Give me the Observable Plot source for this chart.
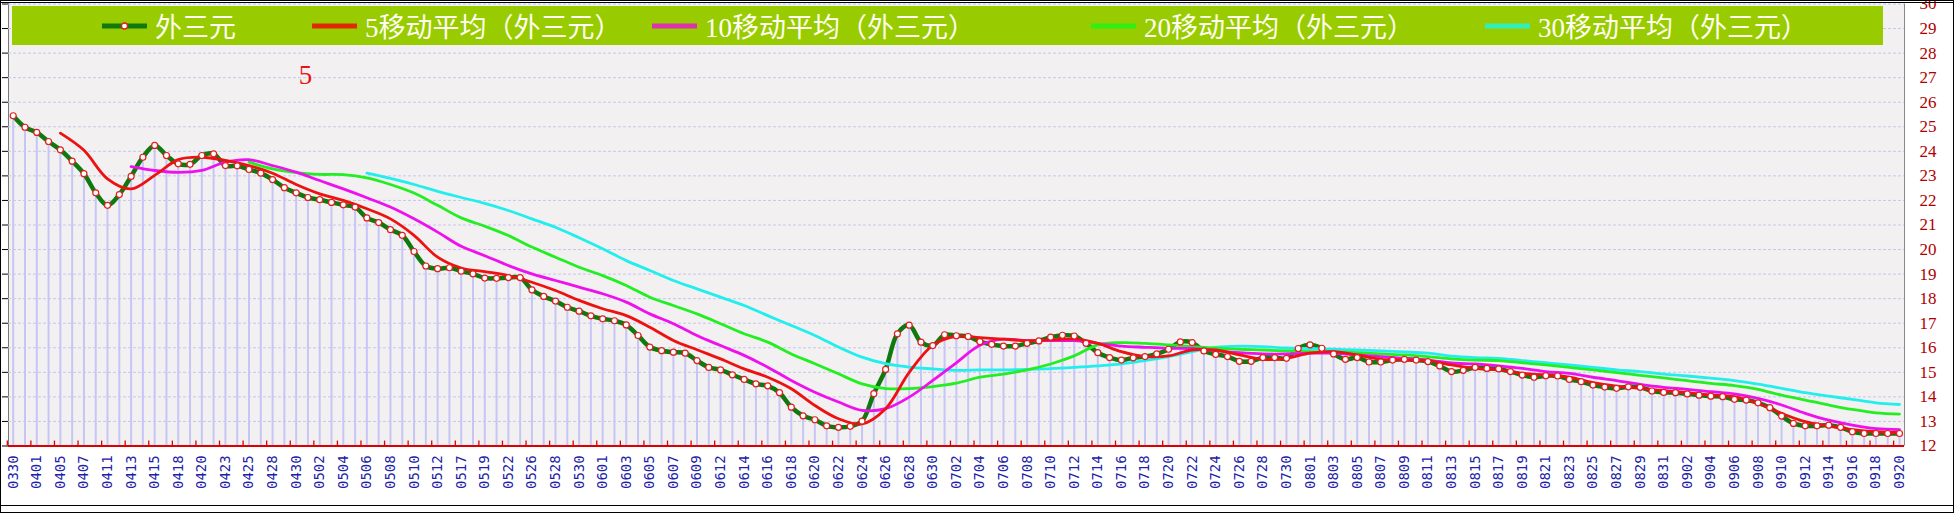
<!DOCTYPE html>
<html><head><meta charset="utf-8">
<script src="https://cdn.jsdelivr.net/npm/d3@7"></script>
<script src="https://cdn.jsdelivr.net/npm/@observablehq/plot@0.6"></script>
<style>
html,body{margin:0;padding:0;background:#fff;overflow:hidden;}
#wrap{position:relative;width:1954px;height:513px;overflow:hidden;background:#fff;}
#wrap > svg{position:absolute;left:0;top:0;}
#legend{position:absolute;left:12px;top:6px;width:1871px;height:39px;background:#99cc00;}
.item{position:absolute;top:0;height:39px;display:flex;align-items:center;color:#fffff4;font-family:"Liberation Serif","Noto Sans CJK SC",serif;font-size:27px;white-space:nowrap;}
.item svg{margin-right:8px;}
#border{position:absolute;left:0;top:0;width:1952px;height:511px;border:1px solid #000;pointer-events:none;}
#inner{position:absolute;left:0;top:2px;width:1954px;height:502px;border-top:1px solid #000;border-bottom:1px solid #000;pointer-events:none;}
</style></head><body><div id="wrap"></div>
<script>
const xLabels = ["0330","0401","0405","0407","0411","0413","0415","0418","0420","0423","0425","0428","0430","0502","0504","0506","0508","0510","0512","0517","0519","0522","0526","0528","0530","0601","0603","0605","0607","0609","0612","0614","0616","0618","0620","0622","0624","0626","0628","0630","0702","0704","0706","0708","0710","0712","0714","0716","0718","0720","0722","0724","0726","0728","0730","0801","0803","0805","0807","0809","0811","0813","0815","0817","0819","0821","0823","0825","0827","0829","0831","0902","0904","0906","0908","0910","0912","0914","0916","0918","0920"];

const waiSanYuan = [
25.45,24.98,24.77,24.40,24.06,23.60,23.09,22.31,21.80,22.24,
22.98,23.76,24.24,23.83,23.49,23.47,23.83,23.90,23.42,23.41,
23.26,23.11,22.85,22.52,22.31,22.12,22.03,21.92,21.82,21.73,
21.29,21.10,20.81,20.58,19.92,19.33,19.22,19.26,19.12,19.01,
18.84,
18.83,18.86,18.86,18.36,18.09,17.90,17.65,17.49,17.30,17.18,
17.10,16.93,16.50,16.03,15.88,15.82,15.78,15.48,15.20,15.10,
14.90,14.71,14.53,14.45,14.17,13.58,13.23,13.07,12.82,12.76,
12.80,13.01,14.13,15.12,16.57,16.92,16.23,16.09,16.53,16.49,
16.46,
16.25,16.14,16.07,16.07,16.18,16.28,16.43,16.51,16.48,16.18,
15.80,15.60,15.50,15.59,15.64,15.75,15.94,16.24,16.21,15.87,
15.73,15.64,15.45,15.45,15.60,15.60,15.57,15.97,16.12,15.98,
15.75,15.53,15.60,15.42,15.42,15.50,15.53,15.50,15.44,15.26,
15.03,
15.08,15.20,15.16,15.14,15.03,14.89,14.80,14.86,14.85,14.71,
14.62,14.48,14.40,14.35,14.41,14.39,14.24,14.18,14.17,14.12,
14.07,14.03,14.01,13.90,13.87,13.76,13.56,13.22,12.92,12.82,
12.82,12.85,12.76,12.58,12.51,12.51,12.51,12.51];

// moving averages read at every labelled date (one value per xLabels entry)
const ma5 = [null,null,24.74,24.04,22.88,22.47,23.02,23.66,23.76,23.63,
23.42,23.11,22.65,22.27,22.00,21.66,21.25,20.58,19.69,19.25,
19.10,18.94,18.67,18.33,17.93,17.59,17.31,16.84,16.30,15.92,
15.55,15.14,14.80,14.33,13.65,13.11,12.90,13.52,15.00,16.10,
16.46,16.41,16.35,16.29,16.32,16.36,16.18,15.84,15.64,15.67,
15.91,15.91,15.71,15.53,15.57,15.78,15.84,15.71,15.53,15.50,
15.48,15.30,15.16,15.10,14.96,14.89,14.80,14.58,14.44,14.35,
14.25,14.17,14.07,14.01,13.73,13.33,12.99,12.81,12.67,12.58,
12.54];
const ma10 = [null,null,null,null,null,23.38,23.22,23.14,23.22,23.56,
23.66,23.42,23.15,22.81,22.47,22.11,21.73,21.25,20.71,20.13,
19.75,19.35,19.01,18.74,18.47,18.20,17.86,17.38,16.98,16.50,
16.09,15.69,15.21,14.67,14.19,13.79,13.45,13.52,13.99,14.67,
15.39,16.10,16.35,16.29,16.29,16.29,16.18,16.07,16.02,15.98,
15.97,15.88,15.80,15.75,15.75,15.78,15.78,15.71,15.64,15.57,
15.50,15.38,15.34,15.26,15.16,15.03,14.96,14.80,14.66,14.51,
14.39,14.31,14.21,14.12,13.94,13.67,13.33,13.05,12.85,12.71,
12.67];
const ma20 = [null,null,null,null,null,null,null,null,null,null,
23.56,23.29,23.13,23.06,23.05,22.92,22.65,22.30,21.80,21.29,
20.95,20.57,20.10,19.69,19.28,18.94,18.54,18.06,17.72,17.38,
16.98,16.57,16.23,15.75,15.35,14.94,14.53,14.34,14.34,14.42,
14.56,14.80,14.93,15.10,15.34,15.67,16.12,16.21,16.18,16.12,
16.05,15.99,15.94,15.91,15.87,15.84,15.83,15.80,15.75,15.71,
15.64,15.55,15.50,15.48,15.39,15.30,15.20,15.10,14.99,14.88,
14.77,14.66,14.55,14.46,14.31,14.07,13.87,13.67,13.49,13.35,
13.30];
const ma30 = [null,null,null,null,null,null,null,null,null,null,
null,null,null,null,null,23.11,22.90,22.65,22.37,22.12,
21.88,21.59,21.25,20.91,20.48,20.03,19.55,19.15,18.74,18.40,
18.06,17.72,17.31,16.91,16.50,16.03,15.62,15.35,15.21,15.14,
15.08,15.10,15.10,15.12,15.15,15.20,15.26,15.34,15.48,15.64,
15.84,16.02,16.07,16.05,15.99,15.97,15.94,15.91,15.87,15.83,
15.78,15.66,15.60,15.57,15.48,15.39,15.30,15.20,15.10,15.03,
14.93,14.85,14.76,14.66,14.52,14.35,14.17,14.03,13.90,13.76,
13.69];

const yTicks = [12,13,14,15,16,17,18,19,20,21,22,23,24,25,26,27,28,29,30];
const legendNames = ["外三元","5移动平均（外三元）","10移动平均（外三元）","20移动平均（外三元）","30移动平均（外三元）"];
const notes = [{text:"5", at:24.8, value:27.1}];

const lineColors = ["#0f780f","#ee1111","#ee11ee","#22ee22","#22eeee"];
const legendColors = ["#0f780f","#dd2a00","#dd33aa","#33ee11","#33eebb"];
const legendLeft = [90,300,640,1079,1473];

const base = yTicks[0];
const pts = waiSanYuan.map((v,i)=>({i, v}));
const labelRows = xLabels.map((t,k)=>({i:2*k, t}));
const tickRows = xLabels.map((t,k)=>({i:2*k-0.5}));
const maRows = arr => arr.map((v,k)=>({i:2*k, v})).filter(d=>d.v!=null);
const lastIdx = waiSanYuan.length-1;

const chart = Plot.plot({
  width:1954, height:513,
  marginLeft:8, marginRight:50, marginTop:3, marginBottom:68,
  x:{domain:[0,lastIdx], range:[12.7,1899], axis:null},
  y:{domain:[base, yTicks[yTicks.length-1]], range:[445.5,3.5], axis:"left", ticks:yTicks, tickSize:6, tickFormat:()=>"", line:true},
  style:{background:"transparent", color:"#000", overflow:"visible"},
  marks:[
    Plot.frame({fill:"#f2f0f0", stroke:null}),
    Plot.ruleY(yTicks.slice(1), {y:d=>d, stroke:"#c6c6ee", strokeDasharray:"3,2", strokeWidth:1}),
    Plot.ruleX(pts, {x:"i", y1:base, y2:"v", stroke:"#c6c6f6", strokeWidth:2}),
    Plot.ruleX([lastIdx], {x:d=>d, dx:5, y1:base, y2:yTicks[yTicks.length-1], stroke:"#888", strokeWidth:1}),
    Plot.ruleY([base], {y:d=>d, stroke:"#dd0000", strokeWidth:2}),
    Plot.ruleX(tickRows, {x:"i", y1:base, y2:base+0.2, stroke:"#dd0000", strokeWidth:1.3}),
    Plot.line(pts, {x:"i", y:"v", stroke:lineColors[0], strokeWidth:4.5, curve:"catmull-rom"}),
    Plot.line(maRows(ma30), {x:"i", y:"v", stroke:lineColors[4], strokeWidth:2.8, curve:"catmull-rom"}),
    Plot.line(maRows(ma20), {x:"i", y:"v", stroke:lineColors[3], strokeWidth:2.8, curve:"catmull-rom"}),
    Plot.line(maRows(ma10), {x:"i", y:"v", stroke:lineColors[2], strokeWidth:2.8, curve:"catmull-rom"}),
    Plot.line(maRows(ma5), {x:"i", y:"v", stroke:lineColors[1], strokeWidth:2.8, curve:"catmull-rom"}),
    Plot.dot(pts, {x:"i", y:"v", r:3, fill:"#fff", stroke:"#e02020", strokeWidth:1.2}),
    Plot.text(labelRows, {x:"i", y:()=>base, text:"t", rotate:-90, textAnchor:"start", dy:43, fill:"#2020a8", fontSize:14, fontFamily:"DejaVu Sans Mono"}),
    Plot.text(yTicks, {y:d=>d, text:d=>String(d), frameAnchor:"right", textAnchor:"start", dx:15, fill:"#b00000", fontSize:17, fontFamily:"Liberation Serif"}),
    Plot.text(notes, {x:"at", y:"value", text:"text", fill:"#ee1111", fontSize:27, fontFamily:"Liberation Serif"})
  ]
});

const wrap = document.getElementById("wrap");
wrap.appendChild(chart);
const lg = document.createElement("div");
lg.id = "legend";
legendNames.forEach((name,j)=>{
  const it = document.createElement("div");
  it.className = "item";
  it.style.left = legendLeft[j] + "px";
  const marker = j===0
    ? `<svg width="45" height="14"><line x1="0" y1="7" x2="45" y2="7" stroke="${legendColors[0]}" stroke-width="5"/><circle cx="22.5" cy="7" r="3" fill="#fff" stroke="#e02020" stroke-width="1.3"/></svg>`
    : `<svg width="45" height="14"><line x1="0" y1="7" x2="45" y2="7" stroke="${legendColors[j]}" stroke-width="5"/></svg>`;
  it.innerHTML = marker + `<span>${name}</span>`;
  lg.appendChild(it);
});
wrap.appendChild(lg);
const b1 = document.createElement("div"); b1.id="border"; wrap.appendChild(b1);
const b2 = document.createElement("div"); b2.id="inner"; wrap.appendChild(b2);
</script></body></html>
